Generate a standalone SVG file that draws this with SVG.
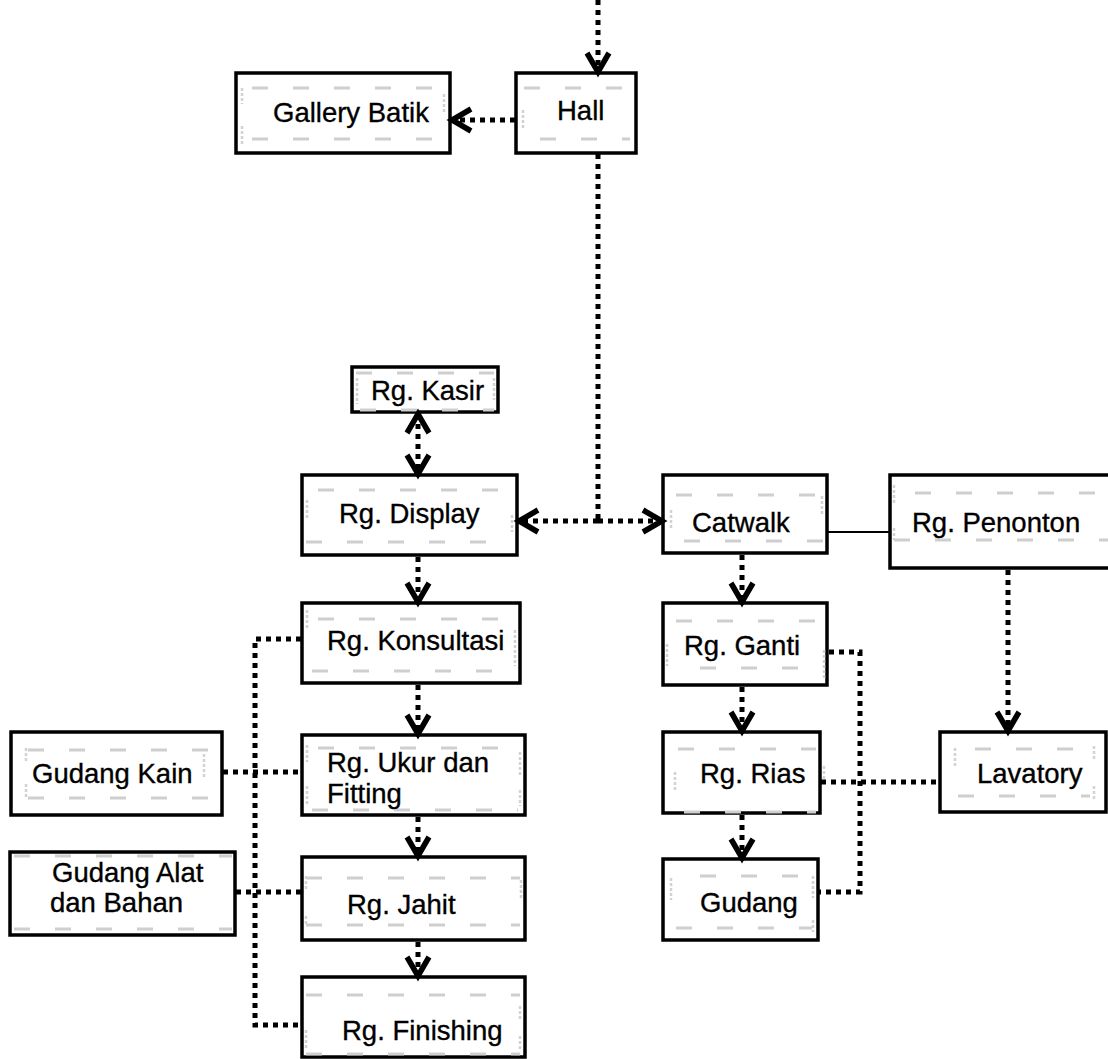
<svg xmlns="http://www.w3.org/2000/svg" width="1108" height="1059" viewBox="0 0 1108 1059">
  <style>
    .box { fill: #fff; stroke: #000; stroke-width: 3.5; }
    .lbl { font-family: "Liberation Sans", Arial, sans-serif; font-size: 27.5px; fill: #000; stroke: #000; stroke-width: 0.35; }
    .mk { fill: none; stroke: #cfcfcf; stroke-width: 3; stroke-dasharray: 16 25; }
    .mkv { fill: none; stroke: #d2d2d2; stroke-width: 2.5; stroke-dasharray: 3 2; }
    .dot { fill: none; stroke: #000; stroke-width: 5; stroke-dasharray: 5 5; }
    .solid { fill: none; stroke: #000; stroke-width: 2; }
  </style>
  <defs>
    <marker id="chev" markerUnits="userSpaceOnUse" viewBox="-24 -15 28 30" refX="0" refY="0" markerWidth="28" markerHeight="30" orient="auto-start-reverse" overflow="visible">
      <path d="M-19 -11 L0 0 L-19 11" fill="none" stroke="#000" stroke-width="5.5" stroke-dasharray="none" stroke-linejoin="miter"/>
    </marker>
  </defs>

  <!-- room boxes -->
  <g id="gallery-batik">
    <rect class="box" x="236" y="73" width="214" height="80"/>
    <path class="mk" d="M252 88 H440 M252 139 H440"/>
    <path class="mkv" d="M242 88 V104 M242 126 V146 M444 94 V112"/>
    <text class="lbl" x="273" y="122">Gallery Batik</text>
  </g>
  <g id="hall">
    <rect class="box" x="516" y="73" width="120" height="80"/>
    <path class="mk" d="M524 88 H630 M540 139 H630"/>
    <path class="mkv" d="M523 110 V130"/>
    <text class="lbl" x="557" y="120">Hall</text>
  </g>
  <g id="rg-kasir">
    <rect class="box" x="352" y="367" width="146" height="45" stroke-width="2.5"/>
    <path class="mk" d="M356 373 H494 M360 410 H494"/>
    <path class="mkv" d="M357 378 V404 M494 378 V400"/>
    <text class="lbl" x="371" y="400">Rg. Kasir</text>
  </g>
  <g id="rg-display">
    <rect class="box" x="302" y="475" width="215" height="80"/>
    <path class="mk" d="M318 490 H510 M306 542 H510"/>
    <path class="mkv" d="M307 500 V518 M512 515 V532"/>
    <text class="lbl" x="339" y="523">Rg. Display</text>
  </g>
  <g id="catwalk">
    <rect class="box" x="663" y="475" width="164" height="78"/>
    <path class="mk" d="M676 495 H823 M684 541 H823"/>
    <path class="mkv" d="M671 510 V530 M822 496 V514"/>
    <text class="lbl" x="692" y="532">Catwalk</text>
  </g>
  <g id="rg-penonton">
    <rect class="box" x="890" y="475" width="226" height="93" stroke-width="4.5"/>
    <path class="mk" d="M915 493 H1108 M894 540 H1108"/>
    <path class="mkv" d="M894 485 V505 M894 528 V540"/>
    <text class="lbl" x="912" y="532">Rg. Penonton</text>
  </g>
  <g id="rg-konsultasi">
    <rect class="box" x="302" y="603" width="218" height="80"/>
    <path class="mk" d="M318 619 H512 M312 671 H512"/>
    <path class="mkv" d="M307 610 V630 M515 630 V666"/>
    <text class="lbl" x="327" y="650">Rg. Konsultasi</text>
  </g>
  <g id="rg-ganti">
    <rect class="box" x="663" y="603" width="164" height="82"/>
    <path class="mk" d="M676 621 H823 M700 668 H800"/>
    <path class="mkv" d="M667 644 V666 M824 650 V680"/>
    <text class="lbl" x="684" y="655">Rg. Ganti</text>
  </g>
  <g id="gudang-kain">
    <rect class="box" x="11" y="732" width="211" height="83"/>
    <path class="mk" d="M28 750 H212 M28 798 H212"/>
    <path class="mkv" d="M26 748 V762 M26 784 V798 M204 754 V778"/>
    <text class="lbl" x="32" y="783">Gudang Kain</text>
  </g>
  <g id="rg-ukur-fitting">
    <rect class="box" x="302" y="735" width="223" height="80" stroke-width="4.5"/>
    <path class="mk" d="M318 748 H518 M312 810 H518"/>
    <path class="mkv" d="M307 745 V762 M307 786 V806 M520 752 V776 M520 790 V806"/>
    <text class="lbl" x="327" y="772">Rg. Ukur dan</text>
    <text class="lbl" x="327" y="803">Fitting</text>
  </g>
  <g id="rg-rias">
    <rect class="box" x="663" y="732" width="157" height="81" stroke-width="4.5"/>
    <path class="mk" d="M678 749 H816 M684 812 H816"/>
    <path class="mkv" d="M675 772 V792 M824 766 V786"/>
    <text class="lbl" x="700" y="783">Rg. Rias</text>
  </g>
  <g id="lavatory">
    <rect class="box" x="940" y="732" width="166" height="80" stroke-width="4.5"/>
    <path class="mk" d="M975 749 H1090 M958 796 H1090"/>
    <path class="mkv" d="M955 748 V766 M1094 746 V760 M1094 786 V800"/>
    <text class="lbl" x="977" y="783">Lavatory</text>
  </g>
  <g id="gudang-alat-bahan">
    <rect class="box" x="10" y="852" width="225" height="83"/>
    <path class="mk" d="M14 856 H232 M14 929 H232"/>
    <text class="lbl" x="52" y="882">Gudang Alat</text>
    <text class="lbl" x="50" y="912">dan Bahan</text>
  </g>
  <g id="rg-jahit">
    <rect class="box" x="302" y="857" width="223" height="83" stroke-width="4.5"/>
    <path class="mk" d="M306 878 H520 M306 925 H520"/>
    <path class="mkv" d="M306 876 V890 M306 916 V926 M521 880 V898"/>
    <text class="lbl" x="347" y="914">Rg. Jahit</text>
  </g>
  <g id="gudang">
    <rect class="box" x="663" y="859" width="155" height="81"/>
    <path class="mk" d="M700 876 H812 M676 928 H812"/>
    <path class="mkv" d="M671 878 V900 M813 876 V898 M813 920 V932"/>
    <text class="lbl" x="700" y="912">Gudang</text>
  </g>
  <g id="rg-finishing">
    <rect class="box" x="302" y="977" width="223" height="80" stroke-width="4.5"/>
    <path class="mk" d="M306 995 H520 M306 1054 H520"/>
    <path class="mkv" d="M306 1030 V1050 M520 1006 V1020 M520 1036 V1050"/>
    <text class="lbl" x="342" y="1040">Rg. Finishing</text>
  </g>

  <!-- connectors -->
  <g id="connectors">
    <path class="dot" d="M598 0 V72" marker-end="url(#chev)"/>
    <path class="dot" d="M515 120 H452" marker-end="url(#chev)"/>
    <path class="dot" d="M598 154 V521"/>
    <path class="dot" d="M598 521 H519" marker-end="url(#chev)"/>
    <path class="dot" d="M598 521 H662" marker-end="url(#chev)"/>
    <path class="dot" d="M418 414 V474" marker-start="url(#chev)" marker-end="url(#chev)"/>
    <path class="dot" d="M418 557 V602" marker-end="url(#chev)"/>
    <path class="dot" d="M418 685 V734" marker-end="url(#chev)"/>
    <path class="dot" d="M418 817 V856" marker-end="url(#chev)"/>
    <path class="dot" d="M418 942 V976" marker-end="url(#chev)"/>
    <path class="dot" d="M301 639 H255 V1025 H301"/>
    <path class="dot" d="M223 772 H301"/>
    <path class="dot" d="M236 892 H301"/>
    <path class="dot" d="M742 555 V602" marker-end="url(#chev)"/>
    <path class="solid" d="M828 532 H889"/>
    <path class="dot" d="M1008 570 V731" marker-end="url(#chev)"/>
    <path class="dot" d="M742 687 V731" marker-end="url(#chev)"/>
    <path class="dot" d="M742 815 V858" marker-end="url(#chev)"/>
    <path class="dot" d="M829 652 H860 V892 H819"/>
    <path class="dot" d="M821 782 H939"/>
  </g>
</svg>
